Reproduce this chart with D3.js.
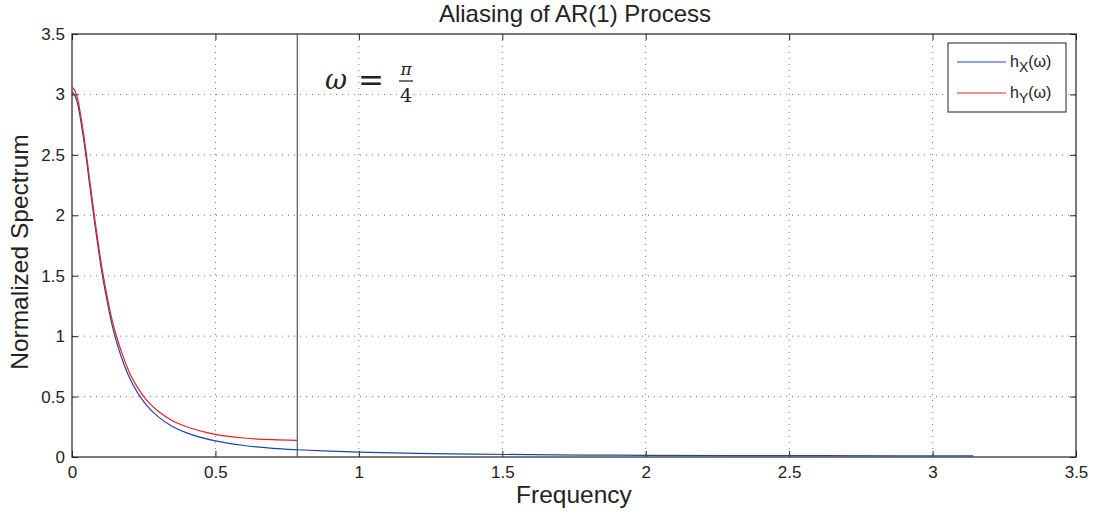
<!DOCTYPE html>
<html>
<head>
<meta charset="utf-8">
<script src="https://cdn.jsdelivr.net/npm/d3@7"></script>
<style>
  body { margin: 0; background: #fff; }
  svg { display: block; font-family: "Liberation Sans", Arial, sans-serif; }
</style>
</head>
<body>
<svg id="chart" width="1099" height="518"></svg>
<script>
// values
const freqX = [0, 0.01, 0.02, 0.03, 0.04, 0.05, 0.06, 0.07, 0.08, 0.09, 0.10, 0.12, 0.14, 0.16, 0.18, 0.20,
  0.23, 0.26, 0.30, 0.35, 0.40, 0.50, 0.60, 0.70, 0.785, 0.9, 1.0, 1.2, 1.4, 1.6, 1.8, 2.0, 2.3, 2.6, 2.9, 3.1416];
const specX = [3.02, 2.99, 2.92, 2.79, 2.64, 2.47, 2.28, 2.10, 1.92, 1.75, 1.59, 1.32, 1.09, 0.915, 0.773, 0.658,
  0.526, 0.428, 0.334, 0.253, 0.200, 0.133, 0.095, 0.072, 0.060, 0.048, 0.040, 0.030, 0.024, 0.019, 0.016, 0.014, 0.012, 0.011, 0.010, 0.010];

const freqY = [0, 0.01, 0.02, 0.03, 0.04, 0.05, 0.06, 0.07, 0.08, 0.09, 0.10, 0.12, 0.14, 0.16, 0.18, 0.20,
  0.23, 0.26, 0.30, 0.35, 0.40, 0.50, 0.60, 0.70, 0.785];
const specY = [3.06, 3.03, 2.96, 2.83, 2.68, 2.51, 2.32, 2.14, 1.96, 1.79, 1.63, 1.36, 1.13, 0.96, 0.82, 0.70,
  0.57, 0.47, 0.38, 0.30, 0.25, 0.187, 0.157, 0.143, 0.138];

const xTicks = [0, 0.5, 1, 1.5, 2, 2.5, 3, 3.5];
const yTicks = [0, 0.5, 1, 1.5, 2, 2.5, 3, 3.5];
const cutoff = Math.PI / 4;

const margin = { top: 34, right: 23, bottom: 61, left: 72 };
const width = 1099 - margin.left - margin.right;
const height = 518 - margin.top - margin.bottom;

const svg = d3.select('#chart');
const g = svg.append('g').attr('transform', `translate(${margin.left},${margin.top})`);

const x = d3.scaleLinear().domain([0, 3.5]).range([0, width]);
const y = d3.scaleLinear().domain([0, 3.5]).range([height, 0]);

// dotted grid
g.append('g')
  .selectAll('line')
  .data(xTicks.slice(1, -1))
  .join('line')
  .attr('x1', d => x(d)).attr('x2', d => x(d))
  .attr('y1', 0).attr('y2', height)
  .attr('stroke', '#777').attr('stroke-dasharray', '1,5');
g.append('g')
  .selectAll('line')
  .data(yTicks.slice(1, -1))
  .join('line')
  .attr('y1', d => y(d)).attr('y2', d => y(d))
  .attr('x1', 0).attr('x2', width)
  .attr('stroke', '#777').attr('stroke-dasharray', '1,5');

// axes, ticks pointing inward on all four sides
const fmt = d => String(d);
const styleAxis = sel => {
  sel.select('.domain').remove();
  sel.selectAll('line').attr('stroke', '#222');
  sel.selectAll('text').attr('fill', '#222').style('font-size', '17px');
};
g.append('g').attr('transform', `translate(0,${height})`)
  .call(d3.axisBottom(x).tickValues(xTicks).tickFormat(fmt).tickSizeInner(-6).tickPadding(9))
  .call(styleAxis);
g.append('g')
  .call(d3.axisTop(x).tickValues(xTicks).tickFormat('').tickSizeInner(-6))
  .call(styleAxis);
g.append('g')
  .call(d3.axisLeft(y).tickValues(yTicks).tickFormat(fmt).tickSizeInner(-6).tickPadding(7))
  .call(styleAxis);
g.append('g').attr('transform', `translate(${width},0)`)
  .call(d3.axisRight(y).tickValues(yTicks).tickFormat('').tickSizeInner(-6))
  .call(styleAxis);

g.append('rect')
  .attr('width', width).attr('height', height)
  .attr('fill', 'none').attr('stroke', '#222').attr('stroke-width', 1.2);

// cutoff line
g.append('line')
  .attr('x1', x(cutoff)).attr('x2', x(cutoff))
  .attr('y1', 0).attr('y2', height)
  .attr('stroke', '#555').attr('stroke-width', 1.2);

const line = d3.line().curve(d3.curveMonotoneX);
const blue = '#2244aa';
const red = '#ee1c25';

g.append('path')
  .attr('d', line(freqX.map((f, i) => [x(f), y(specX[i])])))
  .attr('fill', 'none').attr('stroke', blue).attr('stroke-width', 1.2);
g.append('path')
  .attr('d', line(freqY.map((f, i) => [x(f), y(specY[i])])))
  .attr('fill', 'none').attr('stroke', red).attr('stroke-width', 1.2);

// annotation omega = pi/4
const ann = g.append('g')
  .attr('font-family', '"DejaVu Serif", "Liberation Serif", serif')
  .attr('fill', '#222');
ann.append('text').attr('x', 253).attr('y', 55)
  .attr('font-style', 'italic').attr('font-size', 27).text('ω');
ann.append('text').attr('x', 286).attr('y', 57)
  .attr('font-size', 31).text('=');
ann.append('text').attr('x', 334).attr('y', 41).attr('text-anchor', 'middle')
  .attr('font-style', 'italic').attr('font-size', 17).text('π');
ann.append('line').attr('x1', 327).attr('x2', 341).attr('y1', 47).attr('y2', 47)
  .attr('stroke', '#222').attr('stroke-width', 1.3);
ann.append('text').attr('x', 334).attr('y', 68).attr('text-anchor', 'middle')
  .attr('font-size', 19).text('4');

// legend
const legend = svg.append('g').attr('transform', 'translate(948,43)');
legend.append('rect').attr('width', 118).attr('height', 69)
  .attr('fill', '#fff').attr('stroke', '#222').attr('stroke-width', 1);
const items = [{ c: blue, s: 'X' }, { c: red, s: 'Y' }];
items.forEach((it, i) => {
  const yy = 19 + i * 31;
  legend.append('line').attr('x1', 9).attr('x2', 58).attr('y1', yy).attr('y2', yy)
    .attr('stroke', it.c).attr('stroke-width', 1.2);
  const t = legend.append('text').attr('x', 62).attr('y', yy + 5)
    .attr('font-size', 16).attr('fill', '#222');
  t.append('tspan').text('h');
  t.append('tspan').attr('dy', 5).attr('font-size', 14).text(it.s);
  t.append('tspan').attr('dy', -5).text('(ω)');
});

// title and labels
svg.append('text').attr('x', margin.left + width / 2 + 1).attr('y', 22)
  .attr('text-anchor', 'middle').attr('font-size', 24).attr('fill', '#222')
  .text('Aliasing of AR(1) Process');
svg.append('text').attr('x', margin.left + width / 2).attr('y', 503)
  .attr('text-anchor', 'middle').attr('font-size', 24.5).attr('fill', '#222')
  .text('Frequency');
svg.append('text')
  .attr('transform', 'translate(28,252) rotate(-90)')
  .attr('text-anchor', 'middle').attr('font-size', 24.5).attr('fill', '#222')
  .text('Normalized Spectrum');
</script>
</body>
</html>
